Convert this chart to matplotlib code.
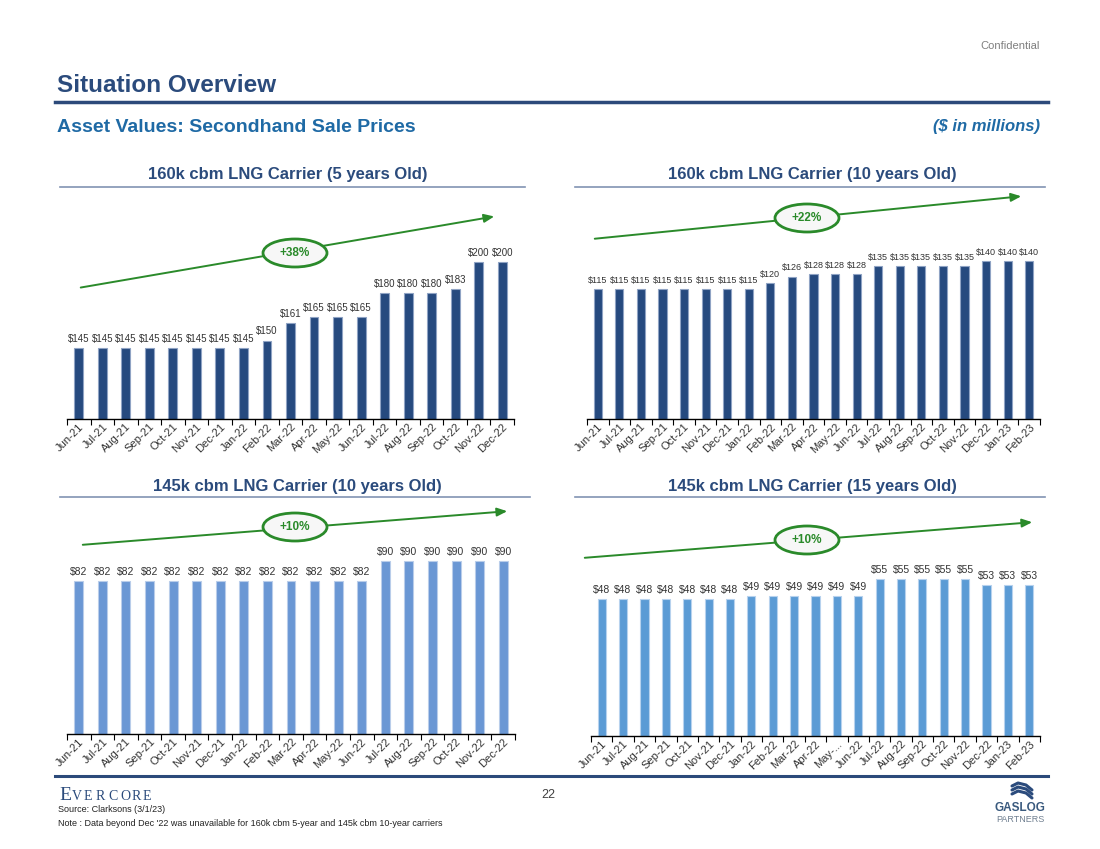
import numpy as np
import matplotlib
matplotlib.use("Agg")
from matplotlib import pyplot as plt
from matplotlib.patches import Ellipse

plt.rcParams['font.family'] = ['Liberation Sans', 'DejaVu Sans']

# Data
months_a = ["Jun-21", "Jul-21", "Aug-21", "Sep-21", "Oct-21", "Nov-21", "Dec-21",
            "Jan-22", "Feb-22", "Mar-22", "Apr-22", "May-22", "Jun-22", "Jul-22",
            "Aug-22", "Sep-22", "Oct-22", "Nov-22", "Dec-22"]
months_b = months_a + ["Jan-23", "Feb-23"]
months_b_short = [m if m != "May-22" else "May-..." for m in months_b]

lng160_5y = [145, 145, 145, 145, 145, 145, 145, 145, 150, 161, 165, 165, 165,
             180, 180, 180, 183, 200, 200]
lng160_10y = [115, 115, 115, 115, 115, 115, 115, 115, 120, 126, 128, 128, 128,
              135, 135, 135, 135, 135, 140, 140, 140]
lng145_10y = [82, 82, 82, 82, 82, 82, 82, 82, 82, 82, 82, 82, 82,
              90, 90, 90, 90, 90, 90]
lng145_15y = [48, 48, 48, 48, 48, 48, 48, 49, 49, 49, 49, 49, 49,
              55, 55, 55, 55, 55, 53, 53, 53]

navy = "#264a7f"
title_blue = "#2b4b7c"
sub_blue = "#1f6aa5"
green = "#2a8a2a"

W, H = 1100, 849
fig = plt.figure(figsize=(11, 8.49), dpi=100)

# overlay in pixel coords for slide decoration
ov = fig.add_axes([0, 0, 1, 1])
ov.set_xlim(0, W)
ov.set_ylim(H, 0)
ov.axis('off')


def px_axes(left, right, top, bottom):
    return fig.add_axes([left / W, 1 - bottom / H, (right - left) / W, (bottom - top) / H])


def bar_chart(box, ylim, labels, values, color, edge, fs):
    ax = px_axes(*box)
    n = len(values)
    x = np.arange(n)
    ax.bar(x, values, width=0.38, color=color, edgecolor=edge, linewidth=0.8, zorder=2)
    for xi, v in zip(x, values):
        ax.annotate(f"${v}", (xi, v), xytext=(0, 3), textcoords="offset points",
                    ha="center", va="bottom", fontsize=fs, color="#333333")
    ax.set_xlim(-0.5, n - 0.5)
    ax.set_ylim(*ylim)
    ax.set_xticks(x)
    ax.set_xticklabels(labels, rotation=45, ha="right", rotation_mode="anchor",
                       fontsize=8, color="#333333")
    ax.tick_params(axis="x", which="major", length=0, pad=2)
    ax.set_xticks(np.arange(-0.5, n), minor=True)
    ax.tick_params(axis="x", which="minor", length=4, width=0.8, direction="out")
    ax.set_yticks([])
    for s in ["top", "right", "left"]:
        ax.spines[s].set_visible(False)
    ax.spines["bottom"].set_linewidth(1.0)
    ax.patch.set_alpha(0)
    return ax


bar_chart((67, 514, 200, 419), (100, 239.5), months_a, lng160_5y, navy, "#8fa3c4", 7)
bar_chart((587, 1040, 200, 419), (0, 193.8), months_b, lng160_10y, navy, "#8fa3c4", 6.5)
bar_chart((67, 515, 505, 734), (20, 112.7), months_a, lng145_10y, "#6a97d4", "#b9cdea", 7.5)
bar_chart((591, 1040, 505, 736), (0, 81), months_b_short, lng145_15y, "#5b9bd5", "#b7d2ee", 7.5)

# header
ov.text(1040, 46, "Confidential", ha="right", va="center", fontsize=8, color="#7f7f7f")
ov.text(57, 85, "Situation Overview", ha="left", va="center", fontsize=17.5,
        fontweight="bold", color=title_blue)
ov.plot([55, 1048], [102, 102], color="#2c4a7a", lw=2.5)
ov.text(57, 127, "Asset Values: Secondhand Sale Prices", ha="left", va="center",
        fontsize=14, fontweight="bold", color=sub_blue)
ov.text(1040, 126, "($ in millions)", ha="right", va="center", fontsize=12,
        fontweight="bold", style="italic", color=sub_blue)

# chart titles
titles = [("160k cbm LNG Carrier (5 years Old)", 288, 174, 60, 525, 187),
          ("160k cbm LNG Carrier (10 years Old)", 812, 174, 575, 1045, 187),
          ("145k cbm LNG Carrier (10 years Old)", 297, 486, 60, 530, 497),
          ("145k cbm LNG Carrier (15 years Old)", 812, 486, 575, 1045, 497)]
for t, tx, ty, x0, x1, ly in titles:
    ov.text(tx, ty, t, ha="center", va="center", fontsize=12, fontweight="bold",
            color=title_blue)
    ov.plot([x0, x1], [ly, ly], color="#8193b3", lw=1.2)

# growth arrows
arrows = [((78, 288), (497, 216), (295, 253), "+38%"),
          ((592, 239), (1024, 196), (807, 218), "+22%"),
          ((80, 545), (510, 511), (295, 527), "+10%"),
          ((582, 558), (1035, 522), (807, 540), "+10%")]
for start, end, c, txt in arrows:
    ov.annotate("", xy=end, xytext=start,
                arrowprops=dict(arrowstyle="-|>,head_length=0.6,head_width=0.25",
                                color=green, lw=1.4))
    ov.add_patch(Ellipse(c, 64, 28, facecolor="#f7f7f7", edgecolor=green, lw=2, zorder=3))
    ov.text(c[0], c[1], txt, ha="center", va="center", fontsize=8.5, fontweight="bold",
            color=green, zorder=4)

# footer
ov.plot([55, 1048], [776, 776], color="#2c4a7a", lw=2.2)
ev_x = [59, 72, 84, 96, 108, 120, 132, 143]
for i, (ch, xx) in enumerate(zip("EVERCORE", ev_x)):
    ov.text(xx, 800, ch, ha="left", va="baseline", family="Liberation Serif",
            fontsize=14 if i == 0 else 10, color=title_blue)
ov.text(548, 795, "22", ha="center", va="center", fontsize=9, color="#404040")
ov.text(58, 810, "Source: Clarksons (3/1/23)", ha="left", va="center", fontsize=6.5,
        color="#222222")
ov.text(58, 823, "Note : Data beyond Dec '22 was unavailable for 160k cbm 5-year and "
        "145k cbm 10-year carriers", ha="left", va="center", fontsize=6.5, color="#222222")

# gaslog logo
for dy in [0, 4, 8]:
    ov.plot([1012, 1018, 1026, 1032], [786 + dy, 783 + dy, 785 + dy, 790 + dy],
            color=title_blue, lw=2.2, solid_capstyle="round")
ov.text(1020, 808, "GASLOG", ha="center", va="center", fontsize=8.5, fontweight="bold",
        color="#3a5a7e")
ov.text(1020, 820, "PARTNERS", ha="center", va="center", fontsize=6.5, color="#6f7f90")

fig.savefig("out.png", dpi=100)
